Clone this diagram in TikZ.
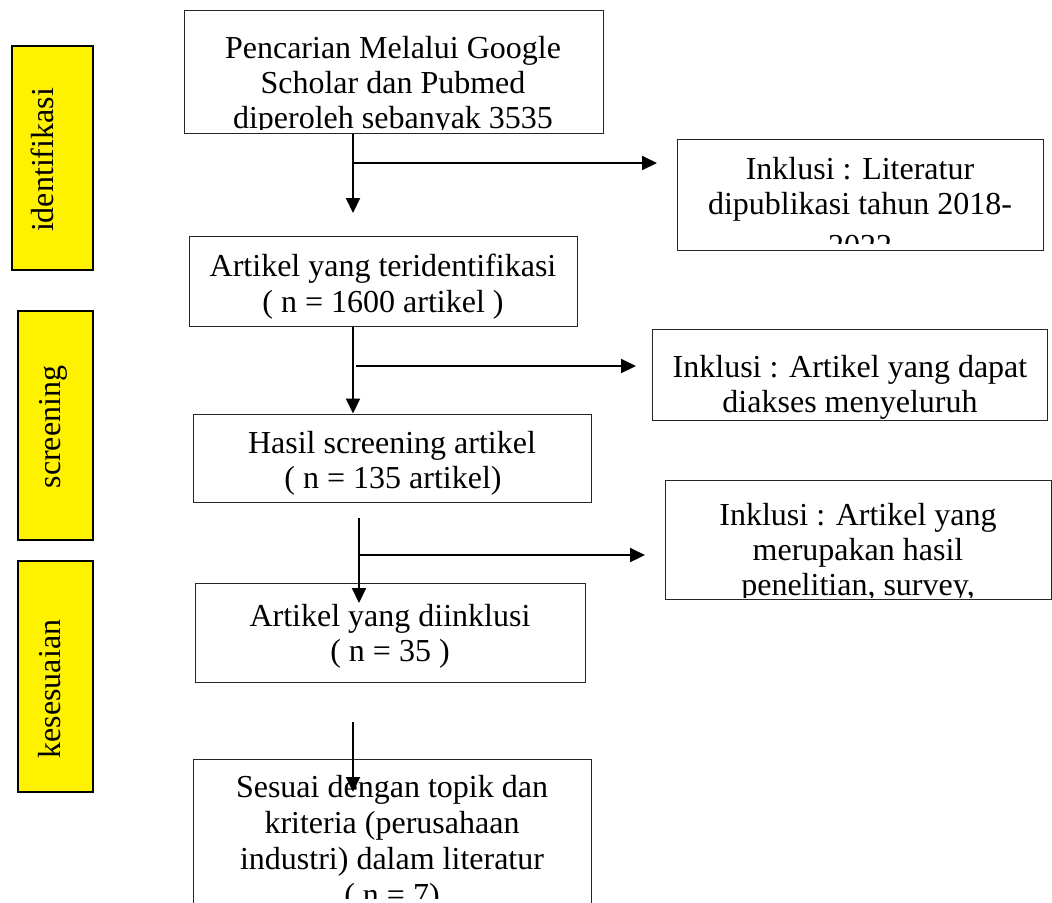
\documentclass[tikz,border=0pt]{standalone}
\usepackage{fontspec}
\setmainfont{Liberation Serif}
\usetikzlibrary{arrows.meta,fit}
\begin{document}
\begin{tikzpicture}[x=0.5pt,y=-0.5pt,
  box/.style={draw=black!85, line width=0.5pt, inner sep=0pt},
  ybox/.style={draw=black, fill=yellow, line width=1.2pt, inner sep=0pt},
  txt/.style={anchor=base, inner sep=0pt, font=\fontsize{16}{17.5}\selectfont},
  vtxt/.style={anchor=base, inner sep=0pt, rotate=90, font=\fontsize{16}{17.5}\selectfont},
  arr/.style={line width=1pt, -{Triangle[length=7.5pt,width=7pt]}}]
\useasboundingbox (0,0) rectangle (1052,902);
% side labels
\node[ybox, fit={(12,46) (93,270)}] (L1) {};
\node[vtxt] (L1t) at (53,160) {identifikasi};
\node[ybox, fit={(18,311) (93,540)}] (L2) {};
\node[vtxt] (L2t) at (60,427) {screening};
\node[ybox, fit={(18,561) (93,792)}] (L3) {};
\node[vtxt] (L3t) at (60,689) {kesesuaian};
% main boxes
\node[box, fit={(184,10) (603,133)}] (b1) {};
\begin{scope}
\clip (184,10) rectangle (603,129);
\node[txt] (b1a) at (393,58) {Pencarian Melalui Google};
\node[txt] (b1b) at (393,93) {Scholar dan Pubmed};
\node[txt] (b1c) at (393,128) {diperoleh sebanyak 3535};
\end{scope}
\node[box, fit={(677,139) (1043,250)}] (i1) {};
\begin{scope}
\clip (677,139) rectangle (1043,243);
\node[txt] (i1a) at (860,179) {Inklusi : Literatur};
\node[txt] (i1b) at (860,214) {dipublikasi tahun 2018-};
\node[txt] (i1c) at (860,256) {2022};
\end{scope}
\node[box, fit={(189,236) (577,326)}] (b2) {};
\node[txt] (b2a) at (383,276) {Artikel yang teridentifikasi};
\node[txt] (b2b) at (383,312) {( n = 1600 artikel )};
\node[box, fit={(652,329) (1047,420)}] (i2) {};
\node[txt] (i2a) at (850,377) {Inklusi : Artikel yang dapat};
\node[txt] (i2b) at (850,412) {diakses menyeluruh};
\node[box, fit={(193,414) (591,502)}] (b3) {};
\node[txt] (b3a) at (392,453) {Hasil screening artikel};
\node[txt] (b3b) at (393,488) {( n = 135 artikel)};
\node[box, fit={(665,480) (1051,599)}] (i3) {};
\begin{scope}
\clip (665,480) rectangle (1051,597);
\node[txt] (i3a) at (858,525) {Inklusi : Artikel yang};
\node[txt] (i3b) at (858,560) {merupakan hasil};
\node[txt] (i3c) at (858,595) {penelitian, survey,};
\end{scope}
\node[box, fit={(195,583) (585,682)}] (b4) {};
\node[txt] (b4a) at (390,626) {Artikel yang diinklusi};
\node[txt] (b4b) at (390,661) {( n = 35 )};
\draw[black!85, line width=0.5pt] (591,920) -- (591,759) -- (193,759) -- (193,920);
\coordinate (b5nw) at (193,759);
\begin{scope}
\clip (193,759) rectangle (591,898);
\node[txt] (b5a) at (392,797) {Sesuai dengan topik dan};
\node[txt] (b5b) at (392,833) {kriteria (perusahaan};
\node[txt] (b5c) at (392,869) {industri) dalam literatur};
\node[txt] (b5d) at (392,905) {( n = 7)};
\end{scope}
% connectors
\coordinate (x1) at (353,0);
\coordinate (a1end) at (353,213);
\coordinate (a1mid) at (353,163);
\coordinate (a1tip) at (657,163);
\draw[arr] (b1.south -| x1) -- (a1end);
\draw[arr] (a1mid) -- (a1tip);
\coordinate (a2mid) at (356,366);
\coordinate (a2tip) at (636,366);
\draw[arr] (b2.south -| x1) -- (b3.north -| x1);
\draw[arr] (a2mid) -- (a2tip);
\coordinate (a3start) at (359,518);
\coordinate (a3end) at (359,603);
\coordinate (a3mid) at (360,555);
\coordinate (a3tip) at (645,555);
\draw[arr] (a3start) -- (a3end);
\draw[arr] (a3mid) -- (a3tip);
\coordinate (a4start) at (353,722);
\coordinate (a4end) at (353,792);
\draw[arr] (a4start) -- (a4end);
\end{tikzpicture}
\end{document}
